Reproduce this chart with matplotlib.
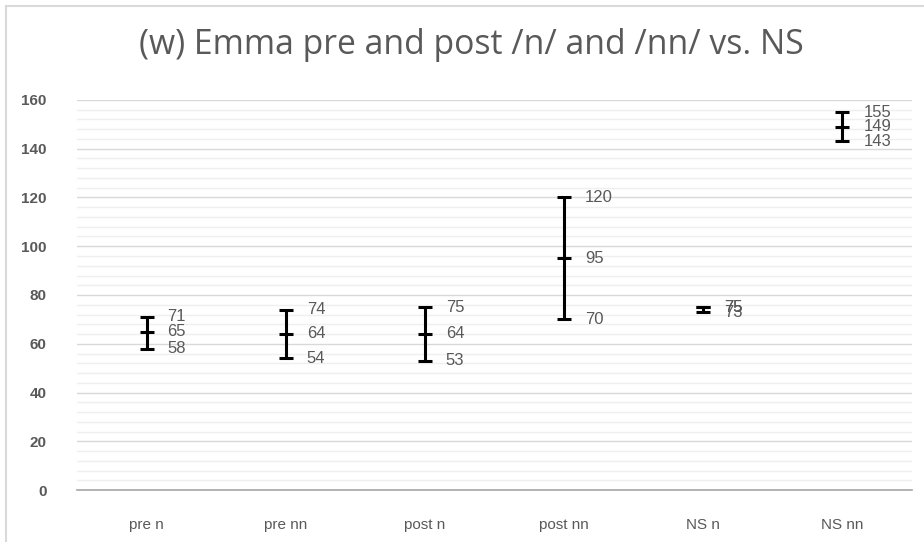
import matplotlib.pyplot as plt
import numpy as np
from matplotlib.lines import Line2D
from matplotlib.ticker import MultipleLocator

# chart data (high / mid / low per category)
categories = ["pre n", "pre nn", "post n", "post nn", "NS n", "NS nn"]
high = [71, 74, 75, 120, 75, 155]
mid = [65, 64, 64, 95, 75, 149]
low = [58, 54, 53, 70, 73, 143]

title = "(w) Emma pre and post /n/ and /nn/ vs. NS"
grey = "#595959"
font = ["Liberation Sans", "DejaVu Sans"]

W, H = 924, 542
fig = plt.figure(figsize=(W / 100, H / 100), dpi=100)
ax = fig.add_axes([77 / W, 1 - 490 / H, 835 / W, 390 / H])

# chart frame, only the top and left edges show in the reference
fig.add_artist(Line2D([6 / W, 6 / W], [0, 1 - 6 / H], color="#d9d9d9", linewidth=1.5))
fig.add_artist(Line2D([6 / W, 1], [1 - 6 / H, 1 - 6 / H], color="#d9d9d9", linewidth=1.5))

x = np.arange(len(categories))
high = np.array(high)
mid = np.array(mid)
low = np.array(low)

ax.errorbar(x, mid, yerr=[mid - low, high - mid], fmt="none", ecolor="black",
            elinewidth=2.2, capsize=5, capthick=2.2, zorder=3)
ax.plot(x, mid, linestyle="none", marker="_", markersize=10, markeredgewidth=2.2,
        color="black", zorder=4)

for xi, vals in zip(x, zip(high, mid, low)):
    for v in vals:
        ax.text(xi + 0.15, v, str(v), fontsize=12, color=grey, va="center",
                ha="left", family=font)

ax.set_xlim(-0.5, len(categories) - 0.5)
ax.set_ylim(0, 160)
ax.yaxis.set_major_locator(MultipleLocator(20))
ax.yaxis.set_minor_locator(MultipleLocator(4))
ax.grid(which="major", axis="y", color="#d9d9d9", linewidth=1)
ax.grid(which="minor", axis="y", color="#efefef", linewidth=1)
ax.set_axisbelow(True)

ax.set_xticks(x)
ax.set_xticklabels(categories, fontsize=11, color=grey, family=font)
for lbl in ax.get_yticklabels():
    lbl.set_fontweight("bold")
    lbl.set_fontsize(11)
    lbl.set_color(grey)
    lbl.set_family(font)
ax.tick_params(axis="both", which="both", length=0)
ax.tick_params(axis="x", pad=20)
ax.tick_params(axis="y", pad=22)

for s in ["top", "right", "left"]:
    ax.spines[s].set_visible(False)
ax.spines["bottom"].set_color("#a6a6a6")
ax.spines["bottom"].set_linewidth(1.2)

fig.text(471 / W, 1 - 45 / H, title, fontsize=24.3, color=grey, ha="center",
         va="center", family=["Open Sans", "DejaVu Sans"])

fig.savefig("out.png", dpi=100)
